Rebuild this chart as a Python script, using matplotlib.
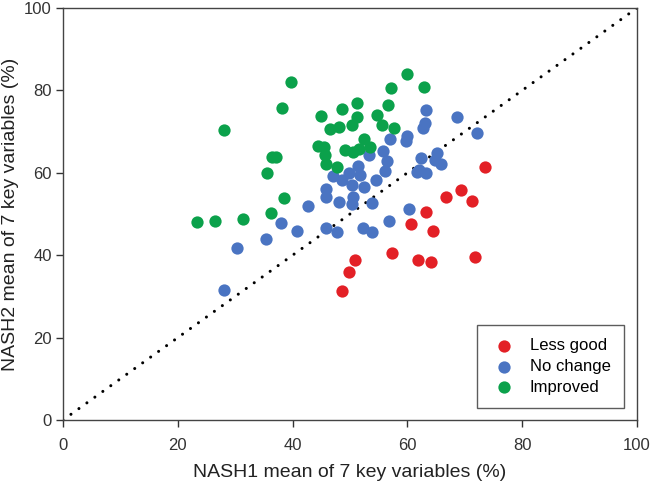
import matplotlib
matplotlib.use("Agg")
import matplotlib.pyplot as plt

plt.rcParams['font.family'] = ['Liberation Sans', 'DejaVu Sans']

# Less good (red)
less_x = [73.5, 69.3, 66.7, 71.2, 63.2, 60.6, 64.4, 57.3, 61.9, 64.2, 71.7, 50.9, 49.9, 48.7]
less_y = [61.5, 55.8, 54.2, 53.2, 50.6, 47.5, 45.8, 40.6, 38.9, 38.4, 39.6, 38.9, 36.0, 31.3]

# No change (blue)
same_x = [63.2, 63.1, 62.8, 68.6, 72.2, 60.0, 59.8, 56.9, 55.8, 56.5, 56.1, 54.6, 53.4, 62.3, 65.1,
          64.8, 65.8, 62.1, 61.6, 63.3, 47.0, 48.7, 49.9, 51.4, 51.7, 50.3, 52.5, 45.8, 45.9, 48.1,
          50.5, 50.3, 53.8, 42.7, 38.0, 40.7, 45.8, 47.8, 52.3, 53.8, 56.8, 60.2, 35.4, 30.3, 28.0]
same_y = [75.2, 72.2, 70.9, 73.5, 69.7, 68.9, 67.8, 68.3, 65.4, 62.9, 60.5, 58.3, 64.3, 63.5, 64.8,
          63.0, 62.2, 60.8, 60.3, 60.0, 59.2, 58.3, 60.0, 61.7, 59.5, 57.0, 56.6, 56.0, 54.1, 53.0,
          54.1, 52.4, 52.6, 52.0, 47.7, 45.9, 46.7, 45.7, 46.7, 45.6, 48.3, 51.2, 44.0, 41.7, 31.5]

# Improved (green)
impr_x = [59.9, 62.9, 57.1, 39.7, 38.2, 28.1, 51.2, 56.7, 48.7, 44.9, 51.2, 54.7, 50.3, 55.5, 57.7,
          46.6, 48.1, 52.4, 53.5, 51.6, 50.6, 49.2, 44.5, 45.4, 45.6, 45.9, 47.8, 36.4, 37.2, 35.5,
          38.5, 36.3, 31.4, 26.4, 23.3]
impr_y = [84.1, 80.9, 80.5, 82.0, 75.7, 70.4, 76.9, 76.5, 75.4, 73.9, 73.5, 74.0, 71.6, 71.6, 70.8,
          70.6, 71.2, 68.1, 66.2, 65.7, 65.1, 65.5, 66.5, 66.2, 64.3, 62.1, 61.3, 63.8, 63.8, 59.9,
          53.8, 50.2, 48.8, 48.4, 48.1]

ticks = [0, 20, 40, 60, 80, 100]

fig = plt.figure(figsize=(6.5, 4.92), dpi=100)
ax = fig.add_axes([0.0969, 0.1463, 0.883, 0.8374])

# diagonal line of identity
ax.plot([0, 100], [0, 100], color='black', lw=2.2, linestyle=(0, (0.01, 3.2)),
        dash_capstyle='round', zorder=1)

ms = 78
ax.scatter(less_x, less_y, s=ms, color='#e32026', lw=0, label='Less good', zorder=3)
ax.scatter(same_x, same_y, s=ms, color='#4a74c2', lw=0, label='No change', zorder=2)
ax.scatter(impr_x, impr_y, s=ms, color='#0ba14b', lw=0, label='Improved', zorder=2)

ax.set_xlim(0, 100)
ax.set_ylim(0, 100)
ax.set_xticks(ticks)
ax.set_yticks(ticks)
ax.tick_params(direction='out', length=5, width=1, labelsize=12, colors='#333333')
ax.tick_params(axis='x', pad=8)
ax.tick_params(axis='y', pad=3)
for sp in ax.spines.values():
    sp.set_color('#444444')
    sp.set_linewidth(1)

ax.set_xlabel('NASH1 mean of 7 key variables (%)', fontsize=14, color='#222222', labelpad=8)
ax.set_ylabel('NASH2 mean of 7 key variables (%)', fontsize=14, color='#222222', labelpad=4)

leg = ax.legend(loc='lower right', bbox_to_anchor=(0.977, 0.029), borderaxespad=0,
                fontsize=12, frameon=True, fancybox=False, edgecolor='#333333',
                handletextpad=0.75, borderpad=0.8, labelspacing=0.35, scatterpoints=1,
                handlelength=1.6)
leg.get_frame().set_linewidth(1)

fig.savefig('out.png', dpi=100)
